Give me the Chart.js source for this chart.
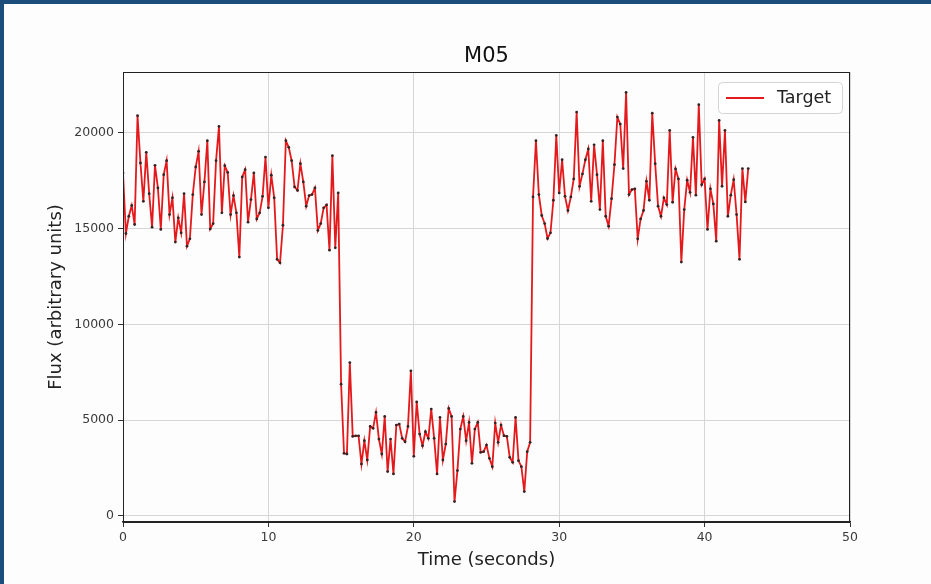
<!DOCTYPE html>
<html>
<head>
<meta charset="utf-8">
<title>M05</title>
<script src="https://cdn.jsdelivr.net/npm/chart.js@4.4.1/dist/chart.umd.min.js"></script>
<style>
    html, body { margin: 0; padding: 0; background: #fdfdfd; }
    .frame { position: relative; width: 931px; height: 584px; overflow: hidden; background: #fdfdfd; }
    .frame .edge-top { position: absolute; left: 0; top: 0; width: 931px; height: 4px; background: #1d4e7b; }
    .frame .edge-left { position: absolute; left: 0; top: 0; width: 4px; height: 584px; background: #1d4e7b; }
    #fluxChart { position: absolute; left: 0; top: 0; }
</style>
</head>
<body>
<div class="frame">
    <canvas id="fluxChart" width="931" height="584"></canvas>
    <div class="edge-top"></div>
    <div class="edge-left"></div>
</div>
<script>
// sample step of the light curve, seconds
var dt = 0.2;

// flux readings, one every dt seconds from t = 0
var flux = [
    17900, 14740, 15640, 16200, 15210, 20885, 18420, 16420, 18975, 16820,
    15070, 18300, 17120, 14950, 17810, 18540, 15730, 16600, 14290, 15560,
    14775, 16820, 14080, 14460, 16770, 18210, 19030, 15730, 17430, 19580,
    14980, 15260, 18540, 20330, 15820, 18280, 17930, 15730, 16720, 15820,
    13510,
    17690, 18070, 15330, 16510, 17900, 15500, 15820, 16680, 18730, 16080,
    17780, 16600, 13390, 13210, 15170, 19580, 19240, 18540, 17170, 16990,
    18385, 17430, 16165, 16720, 16770, 17120, 14900, 15260, 16080, 16230,
    13870, 18800, 13990, 16860,
    6875, 3265, 3230, 8000, 4150, 4180, 4180, 2710, 3920, 2920,
    4670, 4570, 5400, 4010, 3230, 5190, 2310, 4010, 2190, 4740,
    4790, 4050, 3870, 4670, 7570, 3110, 5950, 4270, 3660, 4390,
    4046, 5574, 4046, 2188, 5140, 2917, 3750, 5608, 5191, 747,
    2362, 4532, 5191, 3924, 4879, 2744, 4532, 4879, 3317, 3351,
    3698, 3004, 2570, 4844, 3837, 4740, 4185, 4150, 3056, 2796,
    5140, 2883, 2570, 1268, 3351, 3837,
    16650, 19580, 16770, 15680, 15260, 14480, 14775, 16475, 19860, 16860,
    18590, 16680, 15940, 16650, 17590, 21080, 17200, 17850, 18590, 19150,
    16420, 19370, 17810, 15990, 19580, 15640, 15120, 16560, 18330, 20816,
    20450, 18130, 22100, 16770, 17030, 17070, 14460,
    15500, 15940, 17465, 16475, 21020, 18385, 16165, 15640, 16600, 16250,
    20120, 16370, 18110, 17590, 13250, 15990, 17520, 16890, 19760, 16740,
    21460, 17290, 17590, 14950, 17070, 16285, 14340, 20640, 17205, 20120,
    15640, 16740, 17550, 15730, 13390, 18130, 16390, 18130
];

var xTicks = [0, 10, 20, 30, 40, 50];
var yTicks = [0, 5000, 10000, 15000, 20000];
var seriesName = 'Target';
var chartTitle = 'M05';

var points = flux.map(function (v, i) {
    return { x: +(i * dt).toFixed(1), y: v };
});

var fontFamily = '"DejaVu Sans", "Liberation Sans", sans-serif';

// title over the plot area, spines on all four sides, legend box upper right
var frameAndLegend = {
    id: 'frameAndLegend',
    afterDraw: function (chart) {
        var ctx = chart.ctx;
        var a = chart.chartArea;
        ctx.save();
        ctx.strokeStyle = '#222';
        ctx.lineWidth = 1;
        ctx.strokeRect(a.left + 0.5, a.top + 0.5, a.right - a.left - 1, a.bottom - a.top);

        ctx.fillStyle = '#111';
        ctx.font = '21px ' + fontFamily;
        ctx.textAlign = 'center';
        ctx.textBaseline = 'middle';
        ctx.fillText(chartTitle, (a.left + a.right) / 2, 57);

        var bx = a.right - 132, by = a.top + 10, bw = 124, bh = 31;
        ctx.beginPath();
        ctx.roundRect(bx + 0.5, by + 0.5, bw, bh, 4);
        ctx.fillStyle = 'rgba(255,255,255,0.85)';
        ctx.fill();
        ctx.strokeStyle = '#d4d4d4';
        ctx.stroke();

        ctx.beginPath();
        ctx.moveTo(bx + 8, by + bh / 2 + 0.5);
        ctx.lineTo(bx + 46, by + bh / 2 + 0.5);
        ctx.strokeStyle = '#e3191c';
        ctx.lineWidth = 1.8;
        ctx.stroke();

        ctx.fillStyle = '#222';
        ctx.font = '17.5px ' + fontFamily;
        ctx.textAlign = 'left';
        ctx.fillText(seriesName, bx + 59, by + bh / 2 + 1);
        ctx.restore();
    }
};

//chart init
var chartBlock = document.getElementById('fluxChart');
if (chartBlock) {
    var fluxChart = new Chart(chartBlock, {
        type: 'line',
        data: {
            datasets: [{
                label: seriesName,
                data: points,
                borderColor: '#e3191c',
                borderWidth: 1.8,
                pointRadius: 1.4,
                pointBorderWidth: 0,
                pointBackgroundColor: '#3a2222',
                tension: 0,
                fill: false
            }]
        },
        options: {
            responsive: false,
            animation: false,
            layout: { padding: { left: 0, right: 81, top: 72, bottom: 0 } },
            plugins: {
                legend: { display: false },
                tooltip: { enabled: false },
                title: { display: false }
            },
            scales: {
                x: {
                    type: 'linear',
                    min: 0,
                    max: 50,
                    afterBuildTicks: function (scale) {
                        scale.ticks = xTicks.map(function (v) { return { value: v }; });
                    },
                    afterFit: function (scale) { scale.height = 62; },
                    grid: { color: '#d6d6d6', lineWidth: 1, tickColor: '#333', tickLength: 5 },
                    border: { color: '#222', width: 1.5 },
                    ticks: {
                        color: '#3a3a3a',
                        padding: 3,
                        maxRotation: 0,
                        font: { family: fontFamily, size: 12.5 },
                        callback: function (v) { return v; }
                    },
                    title: {
                        display: true,
                        text: 'Time (seconds)',
                        color: '#222',
                        font: { family: fontFamily, size: 18 },
                        padding: { top: 0, bottom: 13 }
                    }
                },
                y: {
                    min: -320,
                    max: 23170,
                    afterBuildTicks: function (scale) {
                        scale.ticks = yTicks.map(function (v) { return { value: v }; });
                    },
                    afterFit: function (scale) { scale.width = 123; },
                    grid: { color: '#d6d6d6', lineWidth: 1, tickColor: '#333', tickLength: 5 },
                    border: { color: '#222', width: 1 },
                    ticks: {
                        color: '#3a3a3a',
                        padding: 4,
                        font: { family: fontFamily, size: 12.5 },
                        callback: function (v) { return v; }
                    },
                    title: {
                        display: true,
                        text: 'Flux (arbitrary units)',
                        color: '#222',
                        font: { family: fontFamily, size: 18 },
                        padding: { top: 46, bottom: 0 }
                    }
                }
            }
        },
        plugins: [frameAndLegend]
    });
}
</script>
</body>
</html>
